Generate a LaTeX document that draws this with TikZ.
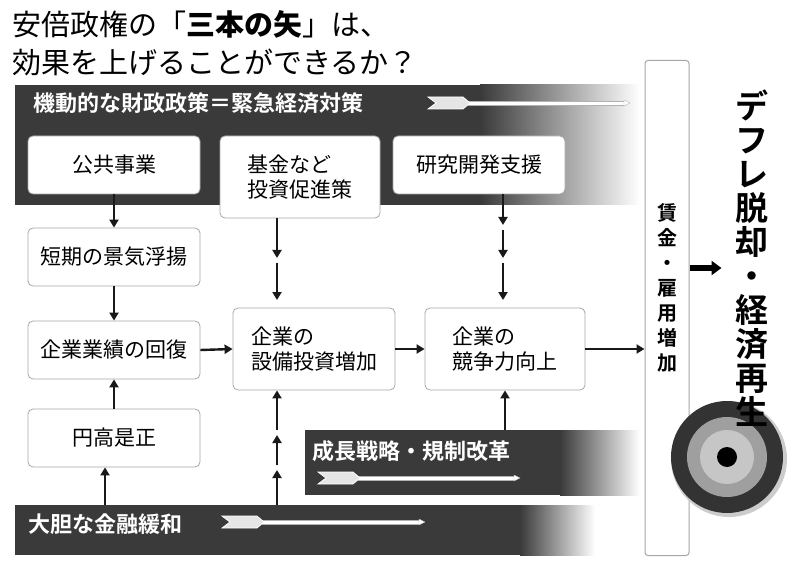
\documentclass[tikz,border=0pt]{standalone}
\usepackage{fontspec}
\setmainfont{Noto Sans CJK JP}
\newfontfamily\jpb{Noto Sans CJK JP Bold}
\usetikzlibrary{arrows.meta}
\definecolor{band}{HTML}{3A3A3A}
\begin{document}
\begin{tikzpicture}[x=1pt,y=-1pt,
  box/.style={draw=gray!70,line width=0.8pt,fill=white,rounded corners=5pt,minimum width=#1,minimum height=58pt,align=left,font=\fontsize{21}{25}\selectfont},
  box/.default=172pt,
  arr/.style={-{Triangle[length=8pt,width=9pt]},line width=2.4pt,black!90},
  bandtxt/.style={text=white,font=\jpb\fontsize{22}{24}\selectfont,anchor=west,inner sep=0pt},
]
\useasboundingbox (0,0) rectangle (798,572);
% title
\node[anchor=west,inner sep=0pt,font=\fontsize{29}{30}\selectfont] (t1) at (12,24) {安倍政権の「\textbf{\jpb 三本の矢}」は、};
\node[anchor=west,inner sep=0pt,font=\fontsize{29}{30}\selectfont] (t2) at (12,62) {効果を上げることができるか？};
% top band
\fill[band] (15,85) rectangle (480,205);
\shade[left color=band,right color=white] (480,85) rectangle (640,205);
\node[bandtxt] (b1) at (33,103) {機動的な財政政策＝緊急経済対策};
% middle band
\fill[band] (305,430) rectangle (560,495);
\shade[left color=band,right color=white] (560,430) rectangle (640,495);
\node[bandtxt] (b2) at (312,451) {成長戦略・規制改革};
% bottom band
\fill[band] (15,505) rectangle (520,555);
\shade[left color=band,right color=white] (520,505) rectangle (595,555);
\node[bandtxt] (b3) at (28,524) {大胆な金融緩和};
% feather arrows
\foreach \xa/\xb/\yy in {428/630/103, 318/520/478, 222/425/522}{
  \fill[white,draw=gray!60] (\xa+40,\yy-2) rectangle (\xb-6,\yy+2);
  \fill[white,draw=gray!60] (\xb-6,\yy-3) -- (\xb,\yy) -- (\xb-6,\yy+3) -- cycle;
  \fill[gray!20,draw=white,line width=0.8pt] (\xa,\yy-6) -- (\xa+35,\yy-6) -- (\xa+42,\yy) -- (\xa+35,\yy+6) -- (\xa,\yy+6) -- (\xa+8,\yy) -- cycle;
}
% boxes
\node[box] (kk) at (114,165) {公共事業};
\node[box=160pt,minimum height=82pt] (kikin) at (300,177) {基金など\\投資促進策};
\node[box] (ken) at (479,165) {研究開発支援};
\node[box] (tan) at (114,257) {短期の景気浮揚};
\node[box] (gyo) at (114,350) {企業業績の回復};
\node[box] (en) at (114,438) {円高是正};
\node[box=162pt,minimum height=82pt] (set) at (314,349) {企業の\\設備投資増加};
\node[box=160pt,minimum height=82pt] (kyo) at (505,349) {企業の\\競争力向上};
% wage bar
\node[draw=gray!70,fill=white,line width=1pt,rounded corners=3pt,minimum width=44pt,minimum height=495pt,inner sep=0pt] (bar) at (667,308) {};
\node[font=\jpb\fontsize{20}{25}\selectfont,align=center] (wage) at (667,288) {賃\\金\\・\\雇\\用\\増\\加};
% target
\fill[gray!40] (729,459) circle (58);
\fill[black!80] (727,457) circle (56);
\fill[gray!75] (727,457) circle (40);
\fill[gray!45] (727,457) circle (27);
\fill[black] (727,457) circle (10);
\node[font=\jpb\fontsize{33}{34}\selectfont,align=center,inner sep=0pt] (goal) at (752,258) {デ\\フ\\レ\\脱\\却\\・\\経\\済\\再\\生};
% arrows
\draw[arr] (kk.south) -- (tan.north);
\draw[arr] (tan.south) -- (gyo.north);
\draw[arr] (en.north) -- (gyo.south);
\coordinate (b3a) at (105,505);
\draw[arr] (b3a) -- (b3a |- en.south);
\draw[arr] (gyo.east) -- (set.west);
\draw[arr] (set.east) -- (kyo.west);
\coordinate (barw) at (bar.west |- kyo.east);
\draw[arr] (kyo.east) -- (barw);
\coordinate (bare) at (bar.east |- 0,268);
\draw[-{Triangle[length=10pt,width=14pt]},line width=5pt] (bare) -- ++(32,0) coordinate (ge);
% kikin -> set
\coordinate (k1) at (277,260);
\draw[arr] (kikin.south -| k1) -- (277,258);
\draw[arr] (277,263) -- (277 ,300);
% ken -> kyo
\draw[arr] (ken.south -| 503,0) -- (503,225);
\draw[arr] (503,230) -- (503,258);
\draw[arr] (503,263) -- (503,300);
% bottom band -> set
\draw[arr] (277,505) -- (277,470);
\draw[arr] (277,465) -- (277,435);
\draw[arr] (277,430) -- (set.south -| 277,0);
% mid band -> kyo
\coordinate (b2a) at (505,430);
\draw[arr] (b2a) -- (b2a |- kyo.south);
\end{tikzpicture}
\end{document}
